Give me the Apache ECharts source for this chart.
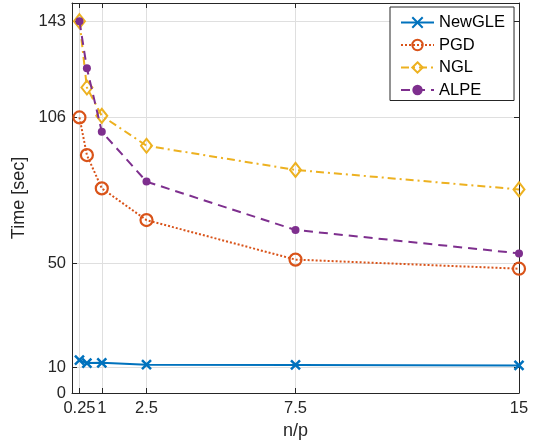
<!DOCTYPE html>
<html>
<head>
<meta charset="utf-8">
<script src="https://cdn.jsdelivr.net/npm/echarts@6/dist/echarts.min.js"></script>
<style>html,body{margin:0;padding:0;background:#fff}#c{width:538px;height:445px}</style>
</head>
<body>
<div id="c"></div>
<script>
const xVals = [0.25, 0.5, 1, 2.5, 7.5, 15];
const newGLE = [12.6, 11.5, 11.6, 10.9, 10.8, 10.6];
const pgd = [106, 91.5, 78.7, 66.5, 51.3, 47.8];
const ngl = [143, 117.5, 106.6, 95.1, 85.8, 78.3];
const alpe = [143, 124.9, 100.5, 81.3, 62.7, 53.7];
const xTicks = [0.25, 1, 2.5, 7.5, 15];
const yTicks = [0, 10, 50, 106, 143];

const pairs = v => xVals.map((x, i) => [x, v[i]]);
const FONT = 'Liberation Sans';
const AX = '#262626';

const chart = echarts.init(document.getElementById('c'), null, {renderer: 'canvas'});
const baseX = {
  type: 'value', min: 0, max: 15,
  axisLine: {show: true, onZero: false, lineStyle: {color: AX, width: 1}},
  axisTick: {show: true, inside: true, length: 5, customValues: xTicks, lineStyle: {color: AX}},
};
const baseY = {
  type: 'value', min: 0, max: 150,
  axisLine: {show: true, onZero: false, lineStyle: {color: AX, width: 1}},
  axisTick: {show: true, inside: true, length: 5, customValues: yTicks, lineStyle: {color: AX}},
};
chart.setOption({
  animation: false,
  textStyle: {fontFamily: FONT},
  grid: {left: 72, right: 19, top: 3, bottom: 52, containLabel: false},
  legend: {
    orient: 'vertical', left: 390, top: 7,
    backgroundColor: '#fff', borderColor: AX, borderWidth: 1,
    padding: [7, 9, 2, 10],
    itemWidth: 33, itemHeight: 13, itemGap: 5.5, itemTextGap: 4,
    textStyle: {fontFamily: FONT, fontSize: 16.5, color: '#000'},
    data: ['NewGLE', 'PGD', 'NGL', 'ALPE']
  },
  xAxis: [
    Object.assign({}, baseX, {
      position: 'bottom',
      name: 'n/p', nameLocation: 'middle', nameGap: 29,
      nameTextStyle: {fontFamily: FONT, fontSize: 18, color: AX},
      axisLabel: {show: true, customValues: xTicks, fontFamily: FONT, fontSize: 16.5, color: AX, margin: 7},
      splitLine: {show: true, lineStyle: {color: '#dfdfdf', width: 1}}
    }),
    Object.assign({}, baseX, {
      position: 'top', axisLabel: {show: false}, splitLine: {show: false}
    })
  ],
  yAxis: [
    Object.assign({}, baseY, {
      position: 'left',
      name: 'Time [sec]', nameLocation: 'middle', nameGap: 34,
      nameTextStyle: {fontFamily: FONT, fontSize: 18, color: AX},
      axisLabel: {show: true, customValues: yTicks, fontFamily: FONT, fontSize: 16.5, color: AX, margin: 6},
      splitLine: {show: true, lineStyle: {color: '#dfdfdf', width: 1}}
    }),
    Object.assign({}, baseY, {
      position: 'right', axisLabel: {show: false}, splitLine: {show: false}
    })
  ],
  series: [
    {
      name: 'NewGLE', type: 'line', data: pairs(newGLE),
      symbol: 'path://M0,0L10,10M10,0L0,10', symbolSize: 9,
      itemStyle: {color: '#0072BD', borderColor: '#0072BD', borderWidth: 2.5},
      lineStyle: {color: '#0072BD', width: 2, type: 'solid'}, z: 5
    },
    {
      name: 'PGD', type: 'line', data: pairs(pgd),
      symbol: 'circle', symbolSize: 12,
      itemStyle: {color: 'rgba(0,0,0,0)', borderColor: '#D95319', borderWidth: 2.2},
      lineStyle: {color: '#D95319', width: 2, type: [2, 2]}, z: 4
    },
    {
      name: 'NGL', type: 'line', data: pairs(ngl),
      symbol: 'diamond', symbolSize: [11, 14],
      itemStyle: {color: 'rgba(0,0,0,0)', borderColor: '#EDB120', borderWidth: 2},
      lineStyle: {color: '#EDB120', width: 2, type: [8, 4, 2, 4]}, z: 3
    },
    {
      name: 'ALPE', type: 'line', data: pairs(alpe),
      symbol: 'circle', symbolSize: 8,
      itemStyle: {color: '#7E2F8E', borderColor: '#7E2F8E', borderWidth: 0},
      lineStyle: {color: '#7E2F8E', width: 2, type: [9, 6]}, z: 6
    }
  ]
});
</script>
</body>
</html>
